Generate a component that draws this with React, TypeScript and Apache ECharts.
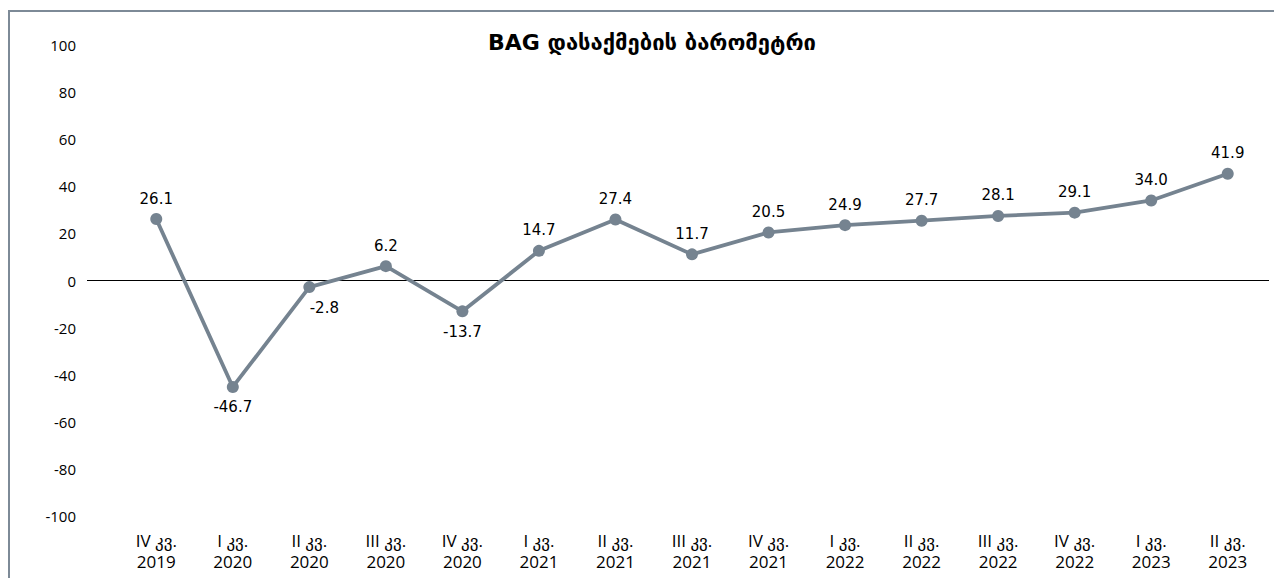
import React, { useEffect, useRef } from "react";
import * as echarts from "echarts";

const categories = [
  "IV კვ.\n2019", "I კვ.\n2020", "II კვ.\n2020", "III კვ.\n2020", "IV კვ.\n2020",
  "I კვ.\n2021", "II კვ.\n2021", "III კვ.\n2021", "IV კვ.\n2021", "I კვ.\n2022",
  "II კვ.\n2022", "III კვ.\n2022", "IV კვ.\n2022", "I კვ.\n2023", "II კვ.\n2023",
];
// plotted positions
const plottedValues = [26.1, -45.2, -2.8, 6.1, -13.1, 12.6, 25.9, 11.1, 20.4, 23.5, 25.4, 27.4, 28.8, 34.0, 45.3];
// values printed as labels
const labelTexts = ["26.1", "-46.7", "-2.8", "6.2", "-13.7", "14.7", "27.4", "11.7", "20.5", "24.9", "27.7", "28.1", "29.1", "34.0", "41.9"];
const labelPlacement = ["top", "bottom", "bottomRight", "top", "bottom", "top", "top", "top", "top", "top", "top", "top", "top", "top", "top"];
const yTicks = { min: -100, max: 100, interval: 20 };
const title = "BAG დასაქმების ბარომეტრი";

const LINE_COLOR = "#758390";
const BORDER_COLOR = "#7d8a97";
const AXIS_FONT = "'Open Sans', 'DejaVu Sans', sans-serif";
const LABEL_FONT = "'DejaVu Sans', sans-serif";

export default function App() {
  const ref = useRef<HTMLDivElement>(null);
  useEffect(() => {
    if (!ref.current) return;
    const chart = echarts.init(ref.current, null, { renderer: "svg" });
    const data = plottedValues.map((v, i) => {
      const p = labelPlacement[i];
      const label: any = { formatter: labelTexts[i] };
      if (p === "top") {
        label.position = "top";
        label.distance = 7;
      } else if (p === "bottom") {
        label.position = "bottom";
        label.distance = 7;
      } else {
        label.position = "bottom";
        label.distance = 7;
        label.offset = [15, 0];
      }
      return { value: v, label };
    });
    const option: any = {
      animation: false,
      title: {
        text: title,
        left: 639,
        top: 18,
        textAlign: "center",
        textStyle: { fontFamily: LABEL_FONT, fontWeight: "bold", fontSize: 22, color: "#000" },
      },
      grid: { left: 110, right: 8, top: 37, bottom: 62 },
      xAxis: {
        type: "category",
        data: categories,
        boundaryGap: true,
        axisLine: { show: false },
        axisTick: { show: false },
        axisLabel: {
          margin: 14,
          interval: 0,
          color: "#000",
          fontSize: 17,
          lineHeight: 21,
          fontFamily: AXIS_FONT,
        },
        splitLine: { show: false },
      },
      yAxis: {
        type: "value",
        min: yTicks.min,
        max: yTicks.max,
        interval: yTicks.interval,
        axisLine: { show: false },
        axisTick: { show: false },
        splitLine: { show: false },
        axisLabel: { margin: 42, color: "#000", fontSize: 15, fontFamily: AXIS_FONT },
      },
      series: [
        {
          type: "line",
          data,
          symbol: "circle",
          symbolSize: 12,
          lineStyle: { color: LINE_COLOR, width: 3.8 },
          itemStyle: { color: LINE_COLOR },
          label: { show: true, color: "#000", fontSize: 15, fontFamily: LABEL_FONT },
          z: 3,
        },
      ],
    };
    chart.setOption(option);
    const y0 = chart.convertToPixel({ yAxisIndex: 0 }, 0) as number;
    chart.setOption({
      graphic: [
        { type: "line", shape: { x1: 79, y1: y0, x2: 1261, y2: y0 }, style: { stroke: "#000", lineWidth: 1 }, z: 1 },
        { type: "line", shape: { x1: 0, y1: 3, x2: 1266, y2: 3 }, style: { stroke: BORDER_COLOR, lineWidth: 2 } },
        { type: "line", shape: { x1: 1, y1: 3, x2: 1, y2: 570 }, style: { stroke: BORDER_COLOR, lineWidth: 2 } },
      ],
    });
    return () => chart.dispose();
  }, []);
  return <div ref={ref} style={{ width: 1266, height: 570 }} />;
}
